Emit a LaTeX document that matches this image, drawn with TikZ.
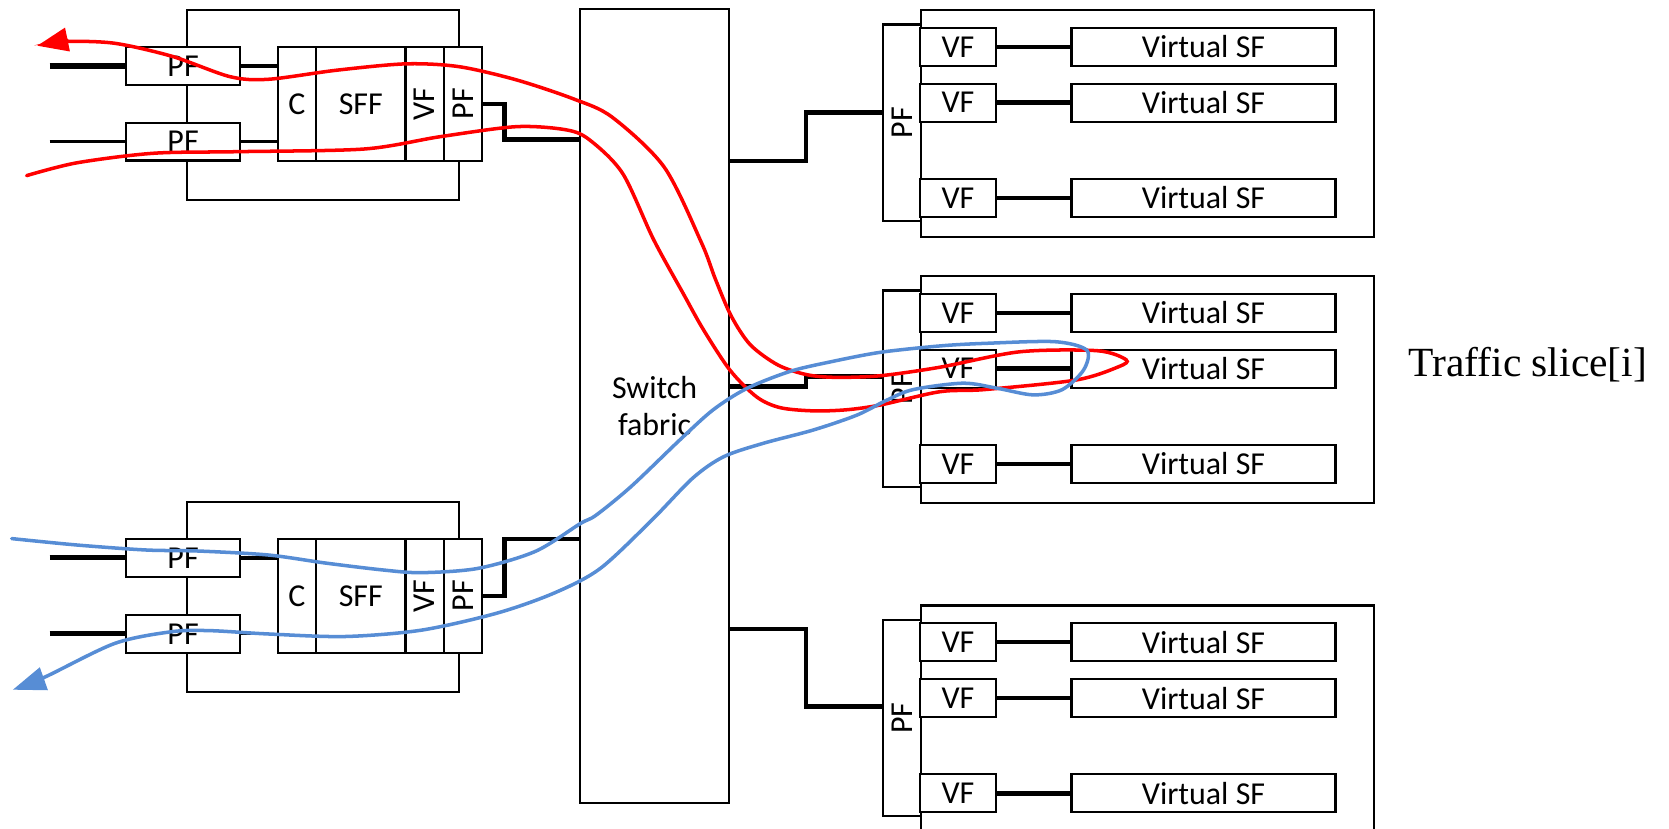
\documentclass[tikz,border=0pt]{standalone}
\usepackage{fontspec}
\setmainfont{Carlito}
\newfontfamily\tms{Liberation Serif}
\usetikzlibrary{arrows.meta}
\definecolor{rd}{RGB}{255,0,0}
\definecolor{bl}{RGB}{87,141,213}
\begin{document}
\begin{tikzpicture}[x=1pt,y=-1pt,
  box/.style={draw, line width=2pt, inner sep=0pt, fill=white},
  frame/.style={draw, line width=2pt, inner sep=0pt},
  thk/.style={line width=4.2pt},
  flowr/.style={draw=rd, line width=3.3pt, line cap=round},
  flowb/.style={draw=bl, line width=3.3pt, line cap=round},
  font=\fontsize{30}{34.4}\selectfont]
\useasboundingbox (0,0) rectangle (1568,778);

% switch fabric
\node[frame, minimum width=140, minimum height=745.5, align=center] (sf) at (615,381.25) {Switch\\fabric};

% left groups
\foreach \g/\ot/\pa/\pb/\mc/\ky/\wa/\wb/\ca/\cb in {t/8.5/62/133/97.6/131/4.8/3/3.6/3.6, b/470.4/524/595.5/559.7/506.4/4.6/4.6/3.6/2.4}
{
  \node[frame, minimum width=256, minimum height=178.5, anchor=north west] (o\g) at (174.5,\ot) {};
  \node[box, minimum width=107, minimum height=35.5] (pa\g) at (172,\pa) {PF};
  \node[box, minimum width=107, minimum height=35.5] (pb\g) at (172,\pb) {PF};
  \node[box, minimum width=36, minimum height=107] (c\g) at (279,\mc) {C};
  \node[box, minimum width=84, minimum height=107] (f\g) at (339,\mc) {SFF};
  \node[box, minimum width=36, minimum height=107] (v\g) at (399,\mc) {};
  \node[rotate=90] at (v\g) {VF};
  \node[box, minimum width=36, minimum height=107] (p\g) at (435,\mc) {};
  \node[rotate=90] at (p\g) {PF};
  \coordinate (la\g) at (46.7,\pa);
  \coordinate (lb\g) at (46.7,\pb);
  \draw[line width=\wa pt] (la\g) -- (pa\g.west);
  \draw[line width=\wb pt] (lb\g) -- (pb\g.west);
  \draw[line width=\ca pt] (pa\g.east) -- (pa\g.east -| c\g.west);
  \draw[line width=\cb pt] (pb\g.east) -- (pb\g.east -| c\g.west);
  \coordinate (k\g) at (474,\ky);
  \draw[thk] (p\g.east) -| (k\g) -- (k\g -| sf.west);
}

% right groups
\foreach \g/\t/\sy/\py in {1/8.5/151.3/105.9, 2/258.4/363.3/353.9, 3/567.8/591/663.9}
{
  \node[frame, minimum width=426, minimum height=213, anchor=north west] (o\g) at (864.2,\t) {};
  \node[box, minimum width=36, minimum height=184.5, anchor=north west] (p\g) at (828.2,\t+13.5) {};
  \node[rotate=90] at (p\g) {PF};
  \foreach \r/\dy in {1/35.5, 2/88, 3/177.5}
  {
    \node[box, minimum width=71.5, minimum height=35.5] (v\g\r) at (900,\t+\dy) {VF};
    \node[box, minimum width=248, minimum height=35.5] (s\g\r) at (1130.7,\t+\dy) {Virtual SF};
    \draw[thk] (v\g\r.east) -- (s\g\r.west);
  }
  \coordinate (ca\g) at (757,\sy);
  \coordinate (cb\g) at (757,\py);
  \draw[thk] (sf.east |- ca\g) -- (ca\g) -- (cb\g) -- (cb\g -| p\g.west);
}

\node[anchor=base west, font=\tms\fontsize{39}{44}\selectfont, inner sep=0pt] (ts) at (1323,354) {Traffic slice[i]};

% red flow
\draw[flowr, -{Triangle[length=29pt,width=22pt]}] plot[smooth, tension=0.5] coordinates {
 (25,165) (72,153) (144,144) (223,142.5) (342,140) (413,128.5) (485,119) (532,122) (554,131.5)
 (585,163) (614,225) (642,276) (661,310) (686,348) (711,373) (733,383) (764,386) (795,385)
 (827,380.5) (883,368) (925,366) (1011,357) (1051,344.5) (1058,338) (1031,329.5) (958,330.5)
 (883,345) (827,353) (785,354.5) (758,352) (731,343) (705,324) (687,297) (672,262)
 (659,228) (624,157) (575,110) (539,93) (485,75) (431,62.6) (381,60) (316,66) (252,74.5)
 (216,72) (162,53) (108,40.7) (63,39) (35,43)};

% blue flow
\draw[flowb, -{Triangle[length=31pt,width=22pt]}] plot[smooth, tension=0.5] coordinates {
 (11,506) (72,512) (137,516.7) (187,517.7) (252,521.4) (306,529) (360,535.5) (396,538) (449,534)
 (503,518) (545,492) (560,484) (593,457) (639,413) (670,385) (701.5,365) (742,349) (780,340)
 (827,331) (883,325) (925,322.6) (991,321) (1021,329) (1018,347.6) (998,366) (971,371) (938,365)
 (905,360) (858,366) (833,376) (805,390) (764,404) (717,416.5) (680,429) (651,449) (612.5,488.5)
 (564,534) (521,557) (467,576) (396,592) (324,598) (252,595.6) (198,592.5) (162,593.4) (108,604.4)
 (43,635.7) (12,648)};
\end{tikzpicture}
\end{document}
